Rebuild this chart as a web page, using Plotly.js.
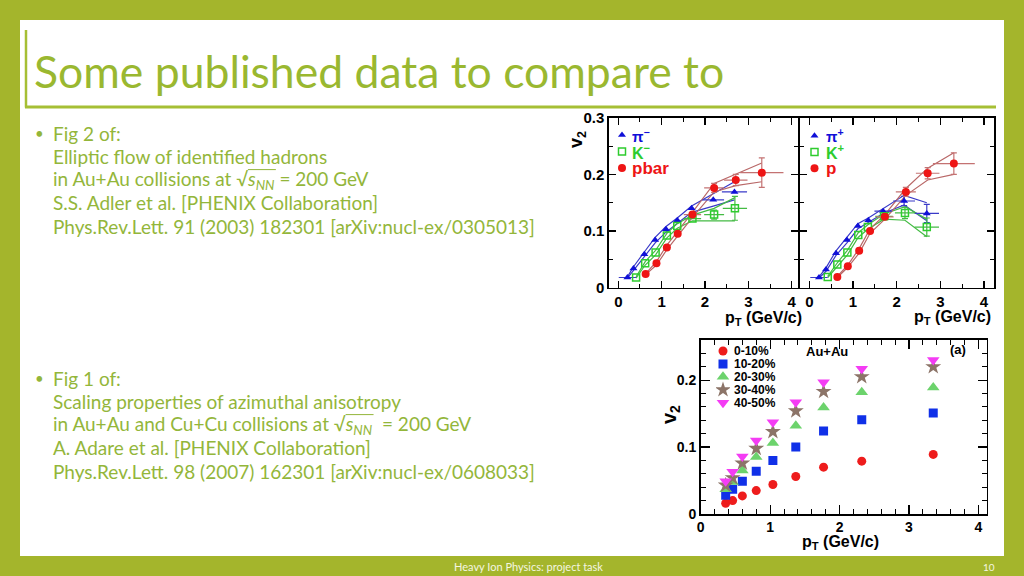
<!DOCTYPE html>
<html><head><meta charset="utf-8">
<script src="https://cdn.plot.ly/plotly-3.0.1.min.js"></script>
<style>html,body{margin:0;padding:0;background:#a4b52c;} #chart{width:1024px;height:576px;}</style>
</head><body><div id="chart"></div>
<script>
// ---------- Fig 2 (PRL 91, 182301): negative hadrons ----------
const piM_pt = [0.21, 0.35, 0.60, 0.85, 1.10, 1.36, 1.69, 2.19, 2.68];
const piM_v2 = [0.018, 0.034, 0.059, 0.084, 0.103, 0.119, 0.140, 0.155, 0.169];
const piM_hi = [0.019, 0.037, 0.063, 0.089, 0.108, 0.123, 0.144, 0.166, 0.187];
const piM_lo = [0.017, 0.031, 0.055, 0.079, 0.098, 0.114, 0.133, 0.144, 0.155];
const piM_ex = [0.20, NaN, NaN, NaN, NaN, NaN, NaN, 0.25, 0.29];

const KM_pt = [0.41, 0.62, 0.86, 1.12, 1.36, 1.71, 2.21, 2.69];
const KM_v2 = [0.018, 0.043, 0.062, 0.092, 0.109, 0.122, 0.129, 0.140];
const KM_hi = [0.019, 0.046, 0.066, 0.096, 0.113, 0.128, 0.140, 0.159];
const KM_lo = [0.017, 0.040, 0.058, 0.088, 0.105, 0.118, 0.118, 0.118];
const KM_ex = [NaN, NaN, NaN, NaN, NaN, 0.20, 0.23, 0.28];
const KM_ey = [NaN, NaN, NaN, NaN, NaN, NaN, 0.008, 0.021];

const pbar_pt = [0.63, 0.88, 1.12, 1.37, 1.71, 2.21, 2.71, 3.31];
const pbar_v2 = [0.024, 0.043, 0.071, 0.095, 0.129, 0.176, 0.190, 0.203];
const pbar_hi = [0.025, 0.046, 0.075, 0.099, 0.133, 0.184, 0.200, 0.220];
const pbar_lo = [0.023, 0.040, 0.067, 0.091, 0.124, 0.169, 0.180, 0.187];
const pbar_ex = [NaN, NaN, NaN, NaN, 0.20, 0.23, 0.27, 0.50];
const pbar_ey = [NaN, NaN, NaN, NaN, NaN, 0.008, 0.010, 0.026];

// ---------- Fig 2: positive hadrons ----------
const piP_pt = [0.22, 0.38, 0.61, 0.86, 1.11, 1.35, 1.69, 2.17, 2.69];
const piP_v2 = [0.018, 0.032, 0.061, 0.084, 0.109, 0.119, 0.135, 0.153, 0.131];
const piP_hi = [0.019, 0.035, 0.065, 0.089, 0.113, 0.123, 0.139, 0.163, 0.150];
const piP_lo = [0.017, 0.029, 0.057, 0.079, 0.104, 0.115, 0.131, 0.146, 0.118];
const piP_ex = [0.20, NaN, NaN, NaN, NaN, NaN, 0.20, 0.25, 0.28];
const piP_ey = [NaN, NaN, NaN, NaN, NaN, NaN, NaN, 0.008, 0.016];

const KP_pt = [0.42, 0.64, 0.87, 1.12, 1.34, 1.71, 2.19, 2.69];
const KP_v2 = [0.019, 0.041, 0.062, 0.093, 0.107, 0.126, 0.132, 0.107];
const KP_hi = [0.020, 0.044, 0.066, 0.097, 0.111, 0.130, 0.143, 0.121];
const KP_lo = [0.018, 0.038, 0.058, 0.089, 0.103, 0.121, 0.119, 0.090];
const KP_ex = [NaN, NaN, NaN, NaN, NaN, 0.20, 0.23, 0.28];
const KP_ey = [NaN, NaN, NaN, NaN, NaN, NaN, 0.010, 0.016];

const pP_pt = [0.64, 0.88, 1.14, 1.39, 1.73, 2.21, 2.71, 3.31];
const pP_v2 = [0.019, 0.038, 0.065, 0.100, 0.125, 0.169, 0.202, 0.219];
const pP_hi = [0.020, 0.040, 0.069, 0.104, 0.129, 0.175, 0.211, 0.238];
const pP_lo = [0.018, 0.036, 0.061, 0.096, 0.121, 0.163, 0.190, 0.200];
const pP_ex = [NaN, NaN, NaN, NaN, 0.20, 0.23, 0.27, 0.48];
const pP_ey = [NaN, NaN, NaN, NaN, NaN, 0.008, 0.010, 0.019];

// ---------- Fig 1 (PRL 98, 162301): Au+Au centrality classes ----------
const cent_pt = [0.36, 0.46, 0.60, 0.80, 1.04, 1.37, 1.77, 2.32, 3.35];
const v2_0_10  = [0.016, 0.020, 0.027, 0.035, 0.044, 0.056, 0.070, 0.079, 0.089];
const v2_10_20 = [0.028, 0.037, 0.049, 0.064, 0.080, 0.100, 0.124, 0.141, 0.151];
const v2_20_30 = [0.037, 0.048, 0.065, 0.085, 0.106, 0.132, 0.159, 0.182, 0.189];
const v2_30_40 = [0.043, 0.054, 0.076, 0.098, 0.123, 0.154, 0.183, 0.205, 0.220];
const v2_40_50 = [0.049, 0.063, 0.086, 0.110, 0.137, 0.167, 0.197, 0.217, 0.230];
const centLabels = ['0-10%', '10-20%', '20-30%', '30-40%', '40-50%'];

const negLabels = ['\u03c0<sup>\u2212</sup>', 'K<sup>\u2212</sup>', 'pbar'];
const posLabels = ['\u03c0<sup>+</sup>', 'K<sup>+</sup>', 'p'];

// ---------- text ----------
const slideTitle = 'Some published data to compare to';
const sqrtPrefix1 = 'in Au+Au collisions at ';
const sqrtPrefix2 = 'in Au+Au and Cu+Cu collisions at ';
const sqrtS = '\u221a<i>s<sub>NN</sub></i>';
const block1 = ['Fig 2 of:', 'Elliptic flow of identified hadrons',
  sqrtPrefix1 + sqrtS + ' = 200 GeV',
  'S.S. Adler et al. [PHENIX Collaboration]',
  'Phys.Rev.Lett. 91 (2003) 182301 [arXiv:nucl-ex/0305013]'];
const block2 = ['Fig 1 of:', 'Scaling properties of azimuthal anisotropy',
  sqrtPrefix2 + sqrtS + '  = 200 GeV',
  'A. Adare et al. [PHENIX Collaboration]',
  'Phys.Rev.Lett. 98 (2007) 162301 [arXiv:nucl-ex/0608033]'];
const footerText = 'Heavy Ion Physics: project task';
const pageNum = '10';

// ---------- helpers ----------
const W = 1024, H = 576;
const fx = p => p / W, fy = p => 1 - p / H;
const dx = (a, b) => [a / W, b / W];
const dy = (t, b) => [1 - b / H, 1 - t / H];

const BLUE = '#1010d8', GREEN = '#2ecc2e', RED = '#ee1515';
const BLUE_L = '#3a3ac8', GREEN_L = '#44bb44', RED_L = '#b96868';
const RED_E = '#c47272';

const traces = [];
function band(x, hi, lo, color, xa, ya) {
  [hi, lo].forEach(v => traces.push({x: x, y: v, xaxis: xa, yaxis: ya, mode: 'lines',
    line: {color: color, width: 1.2}, hoverinfo: 'skip', showlegend: false}));
}
function pts(x, y, ex, ey, marker, ecolor, xa, ya) {
  const t = {x: x, y: y, xaxis: xa, yaxis: ya, mode: 'markers', marker: marker, showlegend: false,
    error_x: {type: 'data', array: ex, color: ecolor, thickness: 1.2, width: 0}};
  if (ey) t.error_y = {type: 'data', array: ey, color: ecolor, thickness: 1.2, width: 3};
  traces.push(t);
}
const mTri = {symbol: 'triangle-up', size: 7, color: BLUE};
const mSq = {symbol: 'square-open', size: 7, color: GREEN, line: {width: 1.5, color: GREEN}};
const mCirc = {symbol: 'circle', size: 8, color: RED};

// left panel
band(piM_pt, piM_hi, piM_lo, BLUE_L, 'x', 'y');
band(KM_pt, KM_hi, KM_lo, GREEN_L, 'x', 'y');
band(pbar_pt, pbar_hi, pbar_lo, RED_L, 'x', 'y');
pts(piM_pt, piM_v2, piM_ex, null, mTri, BLUE_L, 'x', 'y');
pts(KM_pt, KM_v2, KM_ex, KM_ey, mSq, GREEN_L, 'x', 'y');
pts(pbar_pt, pbar_v2, pbar_ex, pbar_ey, mCirc, RED_E, 'x', 'y');
// right panel
band(piP_pt, piP_hi, piP_lo, BLUE_L, 'x2', 'y2');
band(KP_pt, KP_hi, KP_lo, GREEN_L, 'x2', 'y2');
band(pP_pt, pP_hi, pP_lo, RED_L, 'x2', 'y2');
pts(piP_pt, piP_v2, piP_ex, piP_ey, mTri, BLUE_L, 'x2', 'y2');
pts(KP_pt, KP_v2, KP_ex, KP_ey, mSq, GREEN_L, 'x2', 'y2');
pts(pP_pt, pP_v2, pP_ex, pP_ey, mCirc, RED_E, 'x2', 'y2');

// bottom figure
const centSeries = [v2_0_10, v2_10_20, v2_20_30, v2_30_40, v2_40_50];
const centMarkers = [
  {symbol: 'circle', size: 9, color: '#ee1c1c'},
  {symbol: 'square', size: 9, color: '#1030e8'},
  {symbol: 'triangle-up', size: 11, color: '#6cd36c'},
  {symbol: 'star', size: 12, color: '#8c7468'},
  {symbol: 'triangle-down', size: 11, color: '#f43cf4'}];
centSeries.forEach((s, i) => traces.push({x: cent_pt, y: s, xaxis: 'x3', yaxis: 'y3', mode: 'markers',
  marker: centMarkers[i], showlegend: false}));

// legend keys (drawn on small helper axes, one row per entry)
const keyMarkersNeg = [mTri, mSq, mCirc];
keyMarkersNeg.forEach((m, i) => traces.push({x: [0], y: [i], xaxis: 'x4', yaxis: 'y4', mode: 'markers', marker: m, showlegend: false, hoverinfo: 'skip'}));
keyMarkersNeg.forEach((m, i) => traces.push({x: [0], y: [i], xaxis: 'x5', yaxis: 'y5', mode: 'markers', marker: m, showlegend: false, hoverinfo: 'skip'}));
centMarkers.forEach((m, i) => traces.push({x: [0], y: [i], xaxis: 'x6', yaxis: 'y6', mode: 'markers', marker: m, showlegend: false, hoverinfo: 'skip'}));

// ---------- axes ----------
const AX = 'Liberation Sans, Arial, sans-serif';
function frameAxis(extra, tl, mtl, mdt, fs) {
  return Object.assign({showline: true, linecolor: '#000', linewidth: 1.6, mirror: 'ticks',
    ticks: 'inside', ticklen: tl, tickwidth: 1.2, tickcolor: '#000', showgrid: false, zeroline: false,
    tickfont: {family: AX, size: fs, color: '#000', weight: 'bold'},
    minor: {ticks: 'inside', ticklen: mtl, dtick: mdt, tickcolor: '#000', tickwidth: 1, showgrid: false},
    fixedrange: true}, extra);
}
const hidden = (d, r) => ({domain: d, range: r, visible: false, fixedrange: true});

// text measurement for the radical's overbar
const TXT = 'Lato, "Open Sans", sans-serif';
const BODY = 19;
const ctx = document.createElement('canvas').getContext('2d');
function tw(str, size, style) { ctx.font = (style || '') + ' ' + size + 'px ' + TXT; return ctx.measureText(str).width; }
function vinculum(prefix, lineY) {
  const x0 = 52 + 1 + tw(prefix, BODY) + tw('\u221a', BODY) - 0.8;
  const x1 = x0 + tw('s', BODY, 'italic') + tw('NN', BODY * 0.7, 'italic') + 1.5;
  return {type: 'line', xref: 'paper', yref: 'paper', x0: fx(x0), x1: fx(x1),
    y0: fy(lineY - 10), y1: fy(lineY - 10), line: {color: '#93b63a', width: 1}};
}

const layout = {
  width: W, height: H, margin: {l: 0, r: 0, t: 0, b: 0},
  paper_bgcolor: '#a4b52c', plot_bgcolor: 'rgba(0,0,0,0)',
  showlegend: false,
  xaxis: frameAxis({domain: dx(609, 798.2), range: [-0.215, 4.15], anchor: 'y', dtick: 1, tick0: 0}, 7, 4, 0.5, 15),
  yaxis: frameAxis({domain: dy(117.7, 287.7), range: [0, 0.3], anchor: 'x', dtick: 0.1, tick0: 0}, 7, 4, 0.05, 15),
  xaxis2: frameAxis({domain: dx(799.8, 994), range: [-0.22, 4.23], anchor: 'y2', dtick: 1, tick0: 0}, 7, 4, 0.5, 15),
  yaxis2: frameAxis({domain: dy(117.7, 287.7), range: [0, 0.3], anchor: 'x2', dtick: 0.1, tick0: 0, showticklabels: false}, 7, 4, 0.05, 15),
  xaxis3: frameAxis({domain: dx(700.7, 986.7), range: [0, 4.12], anchor: 'y3', dtick: 1, tick0: 0}, 9, 5, 0.2, 14),
  yaxis3: frameAxis({domain: dy(340, 514), range: [0, 0.26], anchor: 'x3', dtick: 0.1, tick0: 0}, 9, 5, 0.02, 14),
  xaxis4: Object.assign(hidden(dx(615, 629), [-1, 1]), {anchor: 'y4'}),
  yaxis4: Object.assign(hidden(dy(126.75, 176.25), [2.5, -0.5]), {anchor: 'x4'}),
  xaxis5: Object.assign(hidden(dx(807.5, 821.5), [-1, 1]), {anchor: 'y5'}),
  yaxis5: Object.assign(hidden(dy(127.5, 176.5), [2.5, -0.5]), {anchor: 'x5'}),
  xaxis6: Object.assign(hidden(dx(716, 730), [-1, 1]), {anchor: 'y6'}),
  yaxis6: Object.assign(hidden(dy(344.5, 409.2), [4.5, -0.5]), {anchor: 'x6'}),
  shapes: [
    {type: 'rect', xref: 'paper', yref: 'paper', x0: fx(20), x1: fx(1004), y0: fy(556), y1: fy(20),
     fillcolor: '#ffffff', line: {width: 0}, layer: 'below'},
    {type: 'line', xref: 'paper', yref: 'paper', x0: fx(26), x1: fx(26), y0: fy(30), y1: fy(107.5),
     line: {color: '#a6bf35', width: 2.5}},
    {type: 'line', xref: 'paper', yref: 'paper', x0: fx(25), x1: fx(996), y0: fy(107), y1: fy(107),
     line: {color: '#a6bf35', width: 3}},
    vinculum(sqrtPrefix1, 133 + 2 * 23.3),
    vinculum(sqrtPrefix2, 378 + 2 * 23.3)
  ],
  annotations: []
};

const A = layout.annotations;
const GRN_T = '#9ab830', GRN_B = '#93b63a';
function ann(text, x, y, o) {
  A.push(Object.assign({text: text, x: fx(x), y: fy(y), xref: 'paper', yref: 'paper', showarrow: false,
    xanchor: 'left', yanchor: 'middle', borderpad: 0}, o));
}
ann(slideTitle, 33, 70, {font: {family: TXT, size: 44.5, color: GRN_T}});
function block(lines, y0) {
  ann('\u2022', 34, y0, {font: {family: TXT, size: 15, color: GRN_B}});
  lines.forEach((l, i) => ann(l, 52, y0 + i * 23.3, {font: {family: TXT, size: BODY, color: GRN_B}}));
}
block(block1, 133);
block(block2, 378);
ann(footerText, 528, 566, {xanchor: 'center', font: {family: TXT, size: 11, color: '#f4f6e0'}});
ann(pageNum, 989, 567, {xanchor: 'center', font: {family: TXT, size: 10, color: '#f4f6e0'}});

// axis titles
const bold = (s, c) => ({family: AX, size: s, color: c || '#000', weight: 'bold'});
ann('v<sub>2</sub>', 577, 140, {xanchor: 'center', textangle: -90, font: bold(18)});
ann('p<sub>T</sub> (GeV/c)', 763, 318, {xanchor: 'center', font: bold(16)});
ann('p<sub>T</sub> (GeV/c)', 952, 317, {xanchor: 'center', font: bold(16)});
ann('v<sub>2</sub>', 670, 415, {xanchor: 'center', textangle: -90, font: bold(20)});
ann('p<sub>T</sub> (GeV/c)', 840, 542, {xanchor: 'center', font: bold(16)});
ann('Au+Au', 827, 351, {xanchor: 'center', font: bold(13)});
ann('(a)', 958, 349, {xanchor: 'center', font: bold(13)});

// legend labels
const negColors = [BLUE, GREEN, RED];
const negSizes = [15, 16, 17];
negLabels.forEach((t, i) => A.push({text: t, x: fx(631), y: i, xref: 'paper', yref: 'y4', showarrow: false,
  xanchor: 'left', yanchor: 'middle', borderpad: 0, font: bold(negSizes[i], negColors[i])}));
posLabels.forEach((t, i) => A.push({text: t, x: fx(825), y: i, xref: 'paper', yref: 'y5', showarrow: false,
  xanchor: 'left', yanchor: 'middle', borderpad: 0, font: bold(negSizes[i], negColors[i])}));
centLabels.forEach((t, i) => A.push({text: t, x: fx(733), y: i, xref: 'paper', yref: 'y6', showarrow: false,
  xanchor: 'left', yanchor: 'middle', borderpad: 0, font: bold(12)}));

Plotly.newPlot('chart', traces, layout, {staticPlot: true, displayModeBar: false});
</script></body></html>
